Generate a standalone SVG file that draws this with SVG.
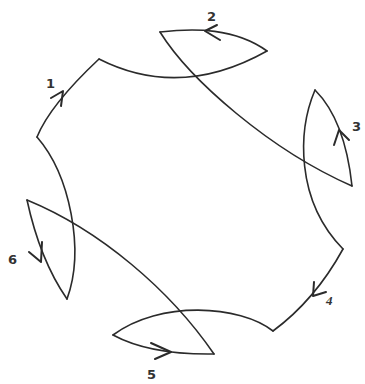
<svg xmlns="http://www.w3.org/2000/svg" width="365" height="384" viewBox="0 0 365 384">
<style>
.c{fill:none;stroke:#2b2b2b;stroke-width:1.6;stroke-linecap:round;stroke-linejoin:round}
.a{fill:none;stroke:#2b2b2b;stroke-width:2;stroke-linecap:round;stroke-linejoin:round}
.t{font-family:"DejaVu Sans",sans-serif;font-weight:bold;font-size:13px;fill:#333}
</style>
<rect width="365" height="384" fill="#fff"/>
<g id="connectors">
<path class="c" d="M160,32 C190,80 270,150 352,186"/>
<path class="c" d="M27,200 C100,230 170,290 214,354"/>
</g>
<g id="arc1">
<path class="c" d="M37,137 Q50,105 99,59"/>
<path class="a" d="M51,98 L63,91 L61,106"/>
<text class="t" x="46" y="88">1</text>
</g>
<g id="arc2">
<path class="c" d="M99,59 Q180,100 267,51"/>
<path class="c" d="M160,32 C195,28 235,28 267,51"/>
<path class="a" d="M217,25 L205,31 L220,40"/>
<text class="t" x="207" y="21">2</text>
</g>
<g id="arc3">
<path class="c" d="M352,186 Q345,120 315,90"/>
<path class="c" d="M315,90 C298,130 295,200 343,249"/>
<path class="a" d="M334,145 L339,130 L349,140"/>
<text class="t" x="352" y="131">3</text>
</g>
<g id="arc4">
<path class="c" d="M343,249 Q315,300 273,331"/>
<path class="a" d="M314,282 L313,296 L326,292"/>
<text x="326" y="305" font-family="Liberation Serif,serif" font-style="italic" font-weight="bold" font-size="13" fill="#333">4</text>
</g>
<g id="arc5">
<path class="c" d="M273,331 C240,305 160,300 113,335"/>
<path class="c" d="M113,335 Q150,355 214,354"/>
<path class="a" d="M151,343 L171,352 L155,359"/>
<text class="t" x="147" y="379">5</text>
</g>
<g id="arc6">
<path class="c" d="M27,200 Q40,260 67,299"/>
<path class="c" d="M37,137 C70,175 85,250 67,299"/>
<path class="a" d="M29,252 L41,262 L42,242"/>
<text class="t" x="8" y="264">6</text>
</g>
</svg>
